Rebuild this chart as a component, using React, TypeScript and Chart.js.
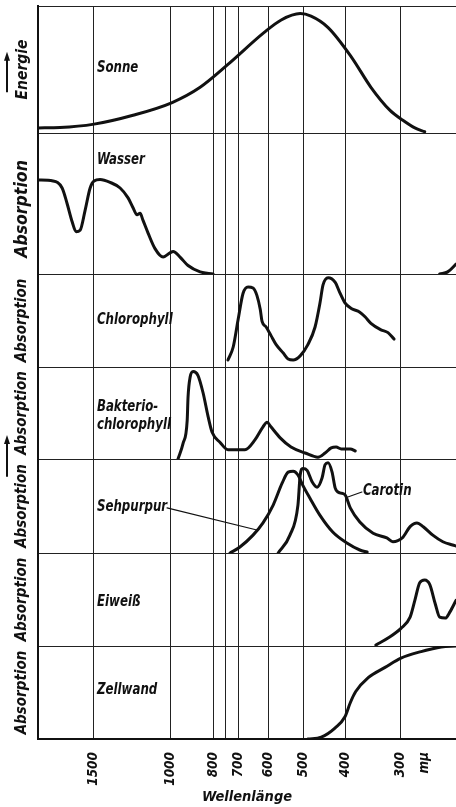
import React, { useEffect, useRef } from 'react';
import { Chart, registerables } from 'chart.js';

Chart.register(...registerables);

const FONT = "'DejaVu Sans Condensed', 'DejaVu Sans', sans-serif";
const INK = '#111';

// x axis (wavelength in mμ, logarithmic, reversed)
const xMin = 225;
const xMax = 2000;
const tickWavelengths = [1500, 1000, 800, 750, 700, 600, 500, 400, 300, 265];
const tickLabels = ['1500', '1000', '800', '', '700', '600', '500', '400', '300', 'mμ'];

// panels, top to bottom
const panelAxisTitles = ['Energie', 'Absorption  ', 'Absorption', 'Absorption', 'Absorption', 'Absorption', 'Absorption'];
const panelAxisTitleSizes = [15.5, 17.5, 15, 15, 15, 15, 15];
const panelHeights = [127, 141, 93, 92, 94, 93, 93];

// Sonne (panel 0)
const sonneX = [2000, 1782, 1492, 1217, 992, 857, 741, 614, 561, 508, 480, 439, 389, 351, 318, 297, 279, 265];
const sonneY = [0.04, 0.043, 0.07, 0.14, 0.24, 0.36, 0.54, 0.79, 0.89, 0.94, 0.92, 0.83, 0.6, 0.36, 0.18, 0.1, 0.04, 0.01];

// Wasser (panel 1)
const wasserX = [2000, 1849, 1763, 1718, 1673, 1639, 1605, 1564, 1523, 1492, 1446, 1372, 1302, 1249, 1217, 1192, 1173, 1155, 1125, 1085, 1040, 1003, 987, 952, 913, 857, 801];
const wasserY = [0.667, 0.66, 0.61, 0.5, 0.37, 0.3, 0.31, 0.45, 0.61, 0.66, 0.67, 0.65, 0.61, 0.54, 0.47, 0.42, 0.43, 0.38, 0.29, 0.18, 0.12, 0.15, 0.16, 0.12, 0.06, 0.015, 0];
const wasserUvX = [245, 235, 225];
const wasserUvY = [0, 0.015, 0.07];

// Chlorophyll (panel 2)
const chloroX = [741, 721, 703, 685, 667, 650, 637, 626, 620, 607, 592, 576, 555, 541, 527, 508, 488, 470, 458, 451, 439, 423, 413, 402, 389, 372, 362, 351, 333, 321, 311];
const chloroY = [0.075, 0.215, 0.505, 0.79, 0.86, 0.85, 0.77, 0.62, 0.49, 0.43, 0.34, 0.24, 0.15, 0.086, 0.075, 0.12, 0.24, 0.43, 0.69, 0.88, 0.96, 0.91, 0.8, 0.69, 0.63, 0.59, 0.54, 0.47, 0.4, 0.37, 0.3];

// Bakteriochlorophyll (panel 3)
const bakterioX = [962, 937, 917, 913, 903, 889, 867, 844, 822, 805, 772, 741, 678, 643, 617, 604, 592, 564, 533, 495, 463, 446, 432, 421, 410, 391, 381];
const bakterioY = [0, 0.17, 0.42, 0.67, 0.89, 0.95, 0.91, 0.72, 0.46, 0.29, 0.18, 0.1, 0.1, 0.21, 0.35, 0.4, 0.35, 0.23, 0.13, 0.065, 0.02, 0.065, 0.12, 0.13, 0.11, 0.11, 0.087];

// Sehpurpur and Carotin (panel 4)
const sehpurpurX = [733, 696, 650, 617, 585, 558, 541, 527, 514, 501, 483, 458, 428, 398, 372, 358];
const sehpurpurY = [0, 0.064, 0.19, 0.32, 0.51, 0.745, 0.86, 0.87, 0.83, 0.72, 0.585, 0.4, 0.22, 0.106, 0.032, 0.01];
const carotinX = [570, 536, 514, 508, 501, 490, 477, 465, 453, 446, 439, 430, 423, 413, 402, 391, 372, 347, 323, 313, 298, 286, 276, 267, 254, 241, 229, 225];
const carotinY = [0, 0.19, 0.51, 0.83, 0.9, 0.88, 0.755, 0.7, 0.8, 0.94, 0.96, 0.86, 0.69, 0.64, 0.62, 0.48, 0.33, 0.21, 0.16, 0.12, 0.16, 0.28, 0.32, 0.28, 0.19, 0.12, 0.085, 0.075];

// Eiweiß (panel 5)
const eiweissX = [342, 321, 300, 286, 279, 272, 265, 258, 251, 245, 238, 232, 225];
const eiweissY = [0.01, 0.086, 0.19, 0.31, 0.49, 0.68, 0.71, 0.66, 0.46, 0.31, 0.3, 0.37, 0.49];

// Zellwand (panel 6)
const zellwandX = [488, 455, 423, 402, 391, 380, 356, 326, 300, 270, 243, 225];
const zellwandY = [0, 0.02, 0.12, 0.24, 0.39, 0.51, 0.66, 0.77, 0.87, 0.94, 0.99, 1.0];

// leader lines
const sehpurpurLeaderX = [1019, 637];
const sehpurpurLeaderY = [0.48, 0.245];
const carotinLeaderX = [396, 368];
const carotinLeaderY = [0.596, 0.649];

// panel labels
const labelTexts = ['Sonne', 'Wasser', 'Chlorophyll', 'Bakterio-', 'chlorophyll', 'Sehpurpur', 'Carotin', 'Eiweiß', 'Zellwand'];
const labelPanels = [0, 1, 2, 3, 3, 4, 4, 5, 6];
const labelX = [1470, 1470, 1470, 1470, 1470, 1470, 366, 1470, 1470];
const labelY = [0.51, 0.81, 0.505, 0.565, 0.37, 0.49, 0.66, 0.47, 0.53];

// arrows beside the axis titles (panel, from, to in panel units)
const arrowPanels = [0, 4];
const arrowFrom = [0.32, 0.81];
const arrowTo = [0.64, 1.255];

const curves = [
  { panel: 0, x: sonneX, y: sonneY, w: 3 },
  { panel: 1, x: wasserX, y: wasserY, w: 3 },
  { panel: 1, x: wasserUvX, y: wasserUvY, w: 3 },
  { panel: 2, x: chloroX, y: chloroY, w: 3 },
  { panel: 3, x: bakterioX, y: bakterioY, w: 3 },
  { panel: 4, x: sehpurpurX, y: sehpurpurY, w: 3 },
  { panel: 4, x: carotinX, y: carotinY, w: 3 },
  { panel: 5, x: eiweissX, y: eiweissY, w: 3 },
  { panel: 6, x: zellwandX, y: zellwandY, w: 3 },
  { panel: 4, x: sehpurpurLeaderX, y: sehpurpurLeaderY, w: 1.2, straight: true },
  { panel: 4, x: carotinLeaderX, y: carotinLeaderY, w: 1.2, straight: true },
];

const labelPlugin = {
  id: 'panelLabels',
  afterDatasetsDraw(chart: any) {
    const ctx = chart.ctx;
    const xs = chart.scales.x;
    ctx.save();
    ctx.fillStyle = INK;
    ctx.strokeStyle = INK;
    ctx.font = `italic bold 16px ${FONT}`;
    ctx.textBaseline = 'middle';
    ctx.textAlign = 'left';
    labelTexts.forEach((t, i) => {
      const ys = chart.scales['y' + labelPanels[i]];
      ctx.save();
      ctx.translate(xs.getPixelForValue(labelX[i]), ys.getPixelForValue(labelY[i]));
      ctx.scale(0.82, 1);
      ctx.fillText(t, 0, 0);
      ctx.restore();
    });
    arrowPanels.forEach((p, i) => {
      const ys = chart.scales['y' + p];
      const x = 7;
      const y0 = ys.getPixelForValue(arrowFrom[i]);
      const y1 = ys.getPixelForValue(arrowTo[i]);
      ctx.lineWidth = 2;
      ctx.beginPath();
      ctx.moveTo(x, y0);
      ctx.lineTo(x, y1 + 6);
      ctx.stroke();
      ctx.beginPath();
      ctx.moveTo(x, y1);
      ctx.lineTo(x - 3, y1 + 9);
      ctx.lineTo(x + 3, y1 + 9);
      ctx.closePath();
      ctx.fill();
    });
    ctx.restore();
  },
};

export default function App() {
  const ref = useRef<HTMLCanvasElement>(null);
  useEffect(() => {
    document.body.style.margin = '0';
    const canvas = ref.current!;

    const scales: any = {
      x: {
        type: 'logarithmic',
        position: 'bottom',
        reverse: true,
        min: xMin,
        max: xMax,
        afterBuildTicks: (axis: any) => {
          axis.ticks = tickWavelengths.map((v) => ({ value: v }));
        },
        afterFit: (s: any) => {
          s.height = 68;
        },
        ticks: {
          autoSkip: false,
          minRotation: 90,
          maxRotation: 90,
          padding: 13,
          color: INK,
          font: { family: FONT, size: 13.5, style: 'italic', weight: 'bold' },
          callback: (value: any) => {
            const i = tickWavelengths.indexOf(Number(value));
            return i >= 0 ? tickLabels[i] : '';
          },
        },
        grid: {
          drawTicks: false,
          lineWidth: 1,
          color: (c: any) => (c.tick && c.tick.value === 265 ? 'rgba(0,0,0,0)' : '#222'),
        },
        border: { display: true, color: INK, width: 2 },
        title: {
          display: true,
          text: 'Wellenlänge',
          color: INK,
          padding: { top: 0, bottom: 1 },
          font: { family: FONT, size: 14.5, style: 'italic', weight: 'bold', lineHeight: 1.2 },
        },
      },
    };

    panelHeights.forEach((h, i) => {
      const size = panelAxisTitleSizes[i];
      scales['y' + i] = {
        type: 'linear',
        position: 'left',
        stack: 'panels',
        stackWeight: h,
        weight: 10 - i,
        min: 0,
        max: 1,
        offset: false,
        afterBuildTicks: (axis: any) => {
          axis.ticks = [{ value: 0 }, { value: 1 }];
        },
        afterFit: (s: any) => {
          s.width = 38;
        },
        ticks: { display: false },
        grid: { drawTicks: false, color: '#222', lineWidth: 1 },
        border: { display: true, color: INK, width: 2 },
        title: {
          display: true,
          text: panelAxisTitles[i],
          color: INK,
          padding: { top: 22.5 - (size * 1.2) / 2, bottom: 0 },
          font: { family: FONT, size, style: 'italic', weight: 'bold', lineHeight: 1.2 },
        },
      };
    });

    const datasets = curves.map((c) => ({
      data: c.x.map((xv, i) => ({ x: xv, y: c.y[i] })),
      yAxisID: 'y' + c.panel,
      borderColor: INK,
      borderWidth: c.w,
      pointRadius: 0,
      fill: false,
      tension: c.straight ? 0 : 0.4,
      cubicInterpolationMode: c.straight ? 'default' : 'monotone',
      borderCapStyle: 'round',
      borderJoinStyle: 'round',
    }));

    const chart = new Chart(canvas, {
      type: 'line',
      data: { datasets } as any,
      options: {
        animation: false,
        responsive: false,
        devicePixelRatio: 1,
        layout: { padding: { top: 6, left: 0, right: 0, bottom: 0 } },
        plugins: { legend: { display: false }, tooltip: { enabled: false } },
        scales,
      } as any,
      plugins: [labelPlugin],
    });
    return () => chart.destroy();
  }, []);

  return (
    <div style={{ width: 456, height: 807, background: '#fff' }}>
      <canvas ref={ref} width={456} height={807} style={{ display: 'block', width: 456, height: 807 }} />
    </div>
  );
}
